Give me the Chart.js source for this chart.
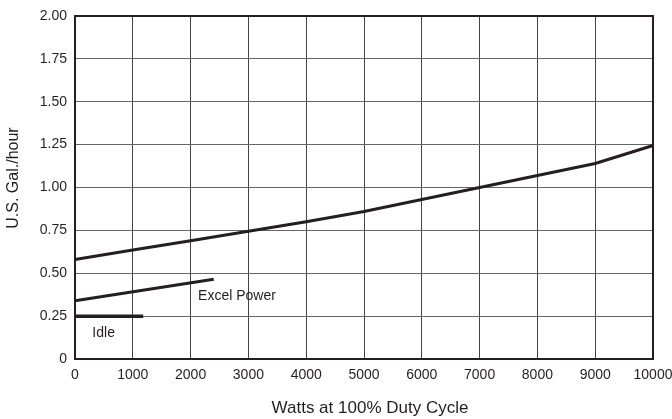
<!DOCTYPE html>
<html>
<head>
<meta charset="utf-8">
<script src="https://cdn.jsdelivr.net/npm/chart.js@4"></script>
<style>
  html, body { margin: 0; padding: 0; background: #fff; }
  #wrap { width: 672px; height: 419px; }
</style>
</head>
<body>
<div id="wrap"><canvas id="fuelChart"></canvas></div>
<script>
const FONT = '"Liberation Sans Narrow", "Arial Narrow", "Liberation Sans", sans-serif';
const INK = '#231f20';

const mainWatts = [0, 1000, 2000, 3000, 4000, 5000, 6000, 7000, 8000, 9000, 10000];
const mainGal = [0.58, 0.635, 0.69, 0.745, 0.80, 0.86, 0.93, 1.00, 1.07, 1.14, 1.245];
const excelWatts = [0, 2400];
const excelGal = [0.34, 0.465];
const idleWatts = [0, 1180];
const idleGal = [0.25, 0.25];
const yTickLabels = ['0', '0.25', '0.50', '0.75', '1.00', '1.25', '1.50', '1.75', '2.00'];
const xTickLabels = ['0', '1000', '2000', '3000', '4000', '5000', '6000', '7000', '8000', '9000', '10000'];

const toPts = (xs, ys) => xs.map((x, i) => ({ x, y: ys[i] }));

const frame = {
    id: 'frame',
    beforeDatasetsDraw(chart) {
        const { ctx, chartArea: a } = chart;
        ctx.save();
        ctx.strokeStyle = INK;
        ctx.lineWidth = 2;
        ctx.strokeRect(a.left, a.top, a.right - a.left, a.bottom - a.top);
        ctx.restore();
    },
    afterDatasetsDraw(chart) {
        const { ctx, scales } = chart;
        ctx.save();
        ctx.fillStyle = INK;
        ctx.textBaseline = 'middle';
        ctx.font = '14px ' + FONT;
        ctx.fillText('Excel Power', scales.x.getPixelForValue(2130), scales.y.getPixelForValue(0.365));
        ctx.fillText('Idle', scales.x.getPixelForValue(300), scales.y.getPixelForValue(0.15));
        // axis titles
        ctx.textAlign = 'center';
        ctx.font = '17px ' + FONT;
        ctx.fillText('Watts at 100% Duty Cycle', 370, 408);
        ctx.translate(14, 178);
        ctx.rotate(-Math.PI / 2);
        ctx.font = '16px ' + FONT;
        ctx.fillText('U.S. Gal./hour', 0, 0);
        ctx.restore();
    }
};

new Chart(document.getElementById('fuelChart'), {
    type: 'line',
    data: {
        datasets: [
            { data: toPts(mainWatts, mainGal), borderColor: INK, borderWidth: 3, pointRadius: 0, tension: 0, clip: false },
            { data: toPts(excelWatts, excelGal), borderColor: INK, borderWidth: 3, pointRadius: 0, clip: false },
            { data: toPts(idleWatts, idleGal), borderColor: INK, borderWidth: 3.5, pointRadius: 0, clip: false }
        ]
    },
    options: {
        responsive: true,
        maintainAspectRatio: false,
        animation: false,
        layout: { padding: { top: 16, right: 19, bottom: 0, left: 0 } },
        plugins: { legend: { display: false }, tooltip: { enabled: false } },
        scales: {
            x: {
                type: 'linear',
                min: 0,
                max: 10000,
                ticks: {
                    stepSize: 1000,
                    color: INK,
                    font: { family: FONT, size: 14 },
                    padding: 8,
                    maxRotation: 0,
                    callback: (v, i) => xTickLabels[i]
                },
                grid: { color: '#444', lineWidth: 1, drawTicks: false },
                border: { display: false },
                afterFit(scale) {
                    scale.height = 60;
                    scale.paddingLeft = 0;
                    scale.paddingRight = 0;
                }
            },
            y: {
                min: 0,
                max: 2,
                ticks: {
                    stepSize: 0.25,
                    color: INK,
                    font: { family: FONT, size: 14 },
                    padding: 8,
                    callback: (v, i) => yTickLabels[i]
                },
                grid: { color: '#666', lineWidth: 1, drawTicks: false },
                border: { display: false },
                afterFit(scale) {
                    scale.width = 75;
                    scale.paddingTop = 0;
                    scale.paddingBottom = 0;
                }
            }
        }
    },
    plugins: [frame]
});
</script>
</body>
</html>
